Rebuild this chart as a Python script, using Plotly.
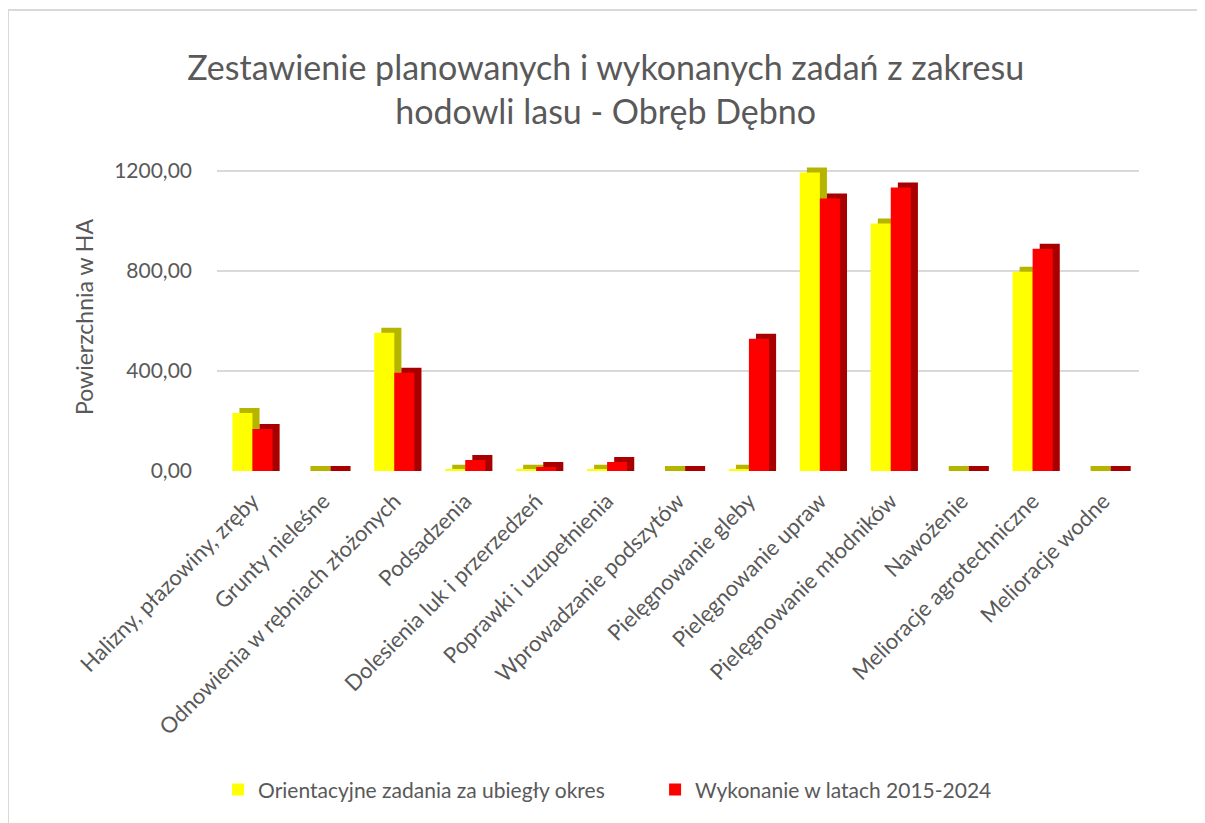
import plotly.graph_objects as go

categories = [
    "Halizny, płazowiny, zręby",
    "Grunty nieleśne",
    "Odnowienia w rębniach złożonych",
    "Podsadzenia",
    "Dolesienia luk i przerzedzeń",
    "Poprawki i uzupełnienia",
    "Wprowadzanie podszytów",
    "Pielęgnowanie gleby",
    "Pielęgnowanie upraw",
    "Pielęgnowanie młodników",
    "Nawożenie",
    "Melioracje agrotechniczne",
    "Melioracje wodne",
]
planned = [232, 0, 552, 5, 5, 5, 0, 5, 1192, 988, 0, 796, 0]
executed = [168, 0, 392, 44, 16, 36, 0, 528, 1088, 1132, 0, 888, 0]
series_names = ["Orientacyjne zadania za ubiegły okres", "Wykonanie w latach 2015-2024"]

FONT = "Lato, Carlito, Calibri, sans-serif"
GRAY = "#595959"
W = 0.283      # bar width (category units)
DX = 0.10      # depth shift (category units)
DY = 20        # depth shift (value units)

L, R, T, B = 209, 74, 155, 360
FW, FH = 1205, 823
PW, PH = FW - L - R, FH - T - B

x = list(range(len(categories)))

fig = go.Figure()

def add_series(vals, name, front, side, offset):
    fig.add_trace(go.Bar(
        x=x, y=[v + DY for v in vals], base=0, width=W, offset=offset + DX,
        marker=dict(color=side, line=dict(width=0)), showlegend=False,
        hoverinfo="skip"))
    fig.add_trace(go.Bar(
        x=x, y=vals, width=W, offset=offset, name=name,
        marker=dict(color=front, line=dict(width=0))))

add_series(planned, series_names[0], "#FFFF00", "#B5B500", -W)
add_series(executed, series_names[1], "#FF0000", "#A80000", 0)

fig.update_layout(
    width=FW, height=FH,
    barmode="overlay",
    paper_bgcolor="white", plot_bgcolor="white",
    separators=", ",
    font=dict(family=FONT, color=GRAY),
    margin=dict(l=L, r=R, t=T, b=B),
    title=dict(
        text="Zestawienie planowanych i wykonanych zadań z zakresu<br>hodowli lasu - Obręb Dębno",
        x=0.496, xref="container", xanchor="center",
        y=0.9125, yref="container", yanchor="middle",
        font=dict(size=34, color=GRAY, family=FONT),
    ),
    legend=dict(
        orientation="h", x=0.537, xref="container", xanchor="center",
        y=0.05, yref="container", yanchor="middle",
        font=dict(size=21, color=GRAY, family=FONT),
        itemwidth=30, entrywidth=392, traceorder="normal",
    ),
    showlegend=True,
)
fig.update_xaxes(
    tickmode="array", tickvals=x, ticktext=categories, tickangle=-45,
    range=[-0.5, len(categories) - 0.5],
    tickfont=dict(size=22, color=GRAY, family=FONT),
    showgrid=False, zeroline=False, showline=False, ticks="",
    ticklabelstandoff=12,
)
fig.update_yaxes(
    range=[0, 1230], tickvals=[0, 400, 800, 1200], tickformat=".2f",
    tickfont=dict(size=21, color=GRAY, family=FONT),
    showgrid=True, gridcolor="#D9D9D9", gridwidth=2, zeroline=False,
    showline=False, ticks="", ticklabelstandoff=24,
    title=dict(text="Powierzchnia w HA", font=dict(size=23, color=GRAY, family=FONT), standoff=14),
)
# outer chart frame
fig.add_shape(type="rect", xref="paper", yref="paper",
              x0=(0 - L) / PW, x1=(FW + 20 - L) / PW,
              y0=(PH + T - (FH + 20)) / PH, y1=(PH + T - 2) / PH,
              line=dict(color="#D9D9D9", width=2), layer="below")

fig.write_html("out.html")
